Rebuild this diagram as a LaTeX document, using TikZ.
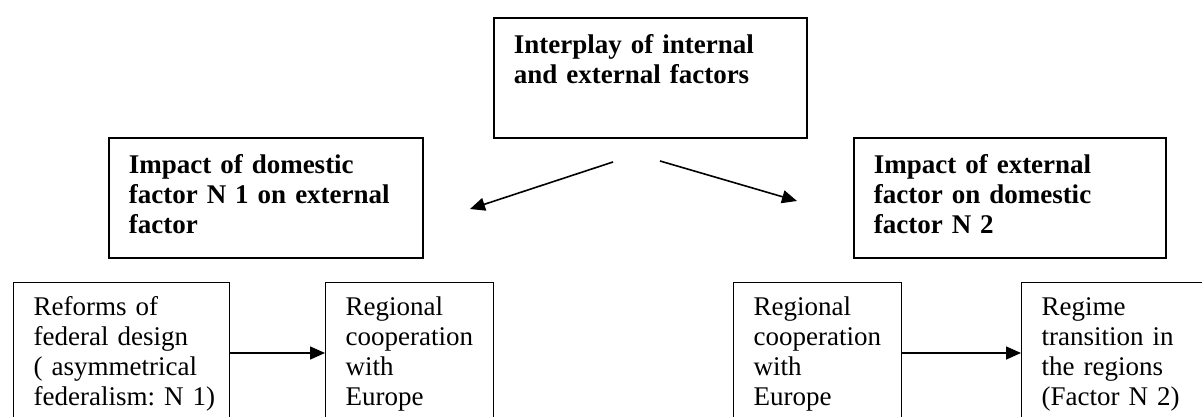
\documentclass[tikz,border=0pt]{standalone}
\usepackage{fontspec}
\setmainfont{Liberation Serif}
\usetikzlibrary{arrows.meta}
\tikzset{
    factorBox/.style={draw, line width=1.6pt, anchor=north west, align=left,
		inner xsep=20pt, inner ysep=0pt, text height=36pt, text depth=84pt,
		font=\fontsize{27}{30}\selectfont\bfseries},
    stageBox/.style={draw, line width=1.4pt, anchor=north west, align=left,
		inner xsep=20pt, inner ysep=0pt, text height=33pt, text depth=150pt,
		font=\fontsize{27}{30}\selectfont},
    flowArrow/.style={line width=1.6pt, -{Triangle[length=15pt,width=13pt]}}
}

\begin{document}
\begin{tikzpicture}[x=1pt, y=-1pt]
			\clip (0,0) rectangle (1202,417);
			% factor boxes
			\node[factorBox, text width=273pt] (interplay) at (493,17) {Interplay of internal\\and external factors};
			\node[factorBox, text width=274pt] (domestic) at (108,137) {Impact of domestic\\factor N~1 on external\\factor};
			\node[factorBox, text width=272pt] (external) at (853,137) {Impact of external\\factor on domestic\\factor N~2};
			% stages
			\node[stageBox, text width=176pt] (reforms) at (13,282) {Reforms of\\federal design\\( asymmetrical\\federalism:~N~1)};
			\node[stageBox, text width=128pt] (regionalA) at (325,282) {Regional\\cooperation\\with\\Europe};
			\node[stageBox, text width=128pt] (regionalB) at (733,282) {Regional\\cooperation\\with\\Europe};
			\node[stageBox, text width=200pt] (regime) at (1021,282) {Regime\\transition in\\the regions\\(Factor~N~2)};
			% split arrows
			\coordinate (splitL) at (613,162);
			\coordinate (splitR) at (660,161);
			\coordinate (toDomestic) at (470,209);
			\coordinate (toExternal) at (797,201);
			\draw[flowArrow] (splitL) -- (toDomestic);
			\draw[flowArrow] (splitR) -- (toExternal);
			\draw[flowArrow] ([yshift=-71pt]reforms.north east) -- ([yshift=-71pt]regionalA.north west);
			\draw[flowArrow] ([yshift=-71pt]regionalB.north east) -- ([yshift=-71pt]regime.north west);
		\end{tikzpicture}
\end{document}
